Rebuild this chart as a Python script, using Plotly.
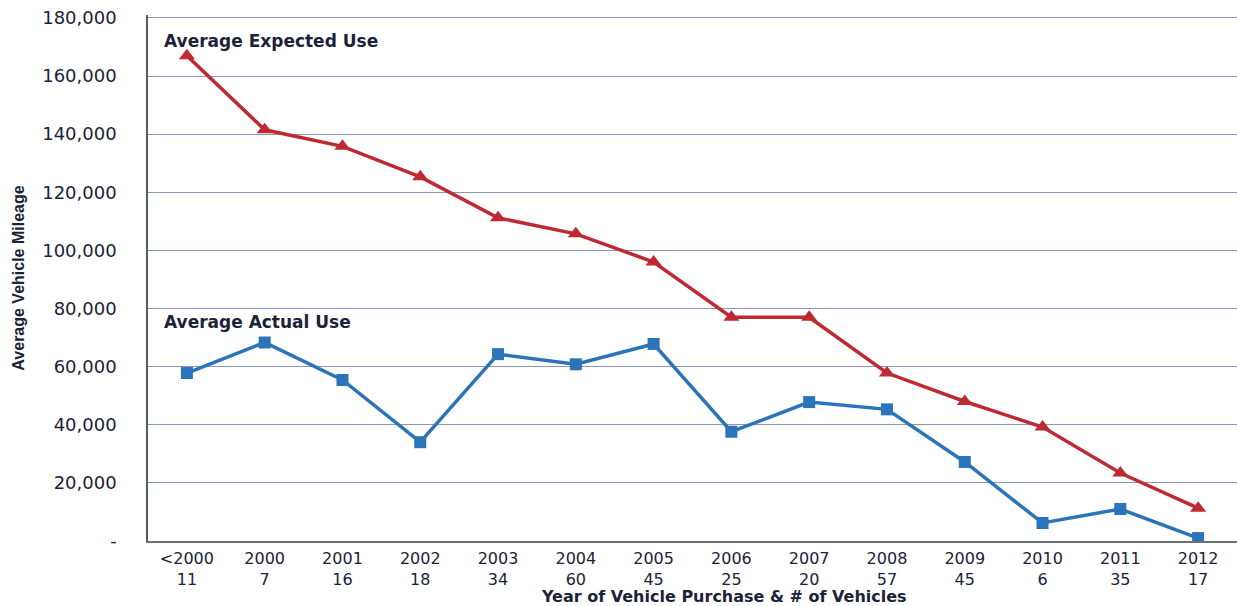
import plotly.graph_objects as go

categories = ["<2000", "2000", "2001", "2002", "2003", "2004", "2005",
              "2006", "2007", "2008", "2009", "2010", "2011", "2012"]
vehicle_counts = ["11", "7", "16", "18", "34", "60", "45",
                  "25", "20", "57", "45", "6", "35", "17"]
expected_use = [167000, 141500, 135800, 125300, 111200, 105700, 96000,
                77000, 77000, 57800, 48000, 39200, 23400, 11300]
actual_use = [57800, 68300, 55400, 34000, 64300, 60800, 67800,
              37600, 47800, 45300, 27200, 6200, 11000, 1000]
y_tickvals = [0, 20000, 40000, 60000, 80000, 100000, 120000, 140000, 160000, 180000]
y_ticktext = ["-", "20,000", "40,000", "60,000", "80,000", "100,000",
              "120,000", "140,000", "160,000", "180,000"]

x_labels = [f"{c}<br>{n}" for c, n in zip(categories, vehicle_counts)]
xs = list(range(len(categories)))

red = "#bd2a33"
blue = "#2b74b9"
text_col = "#1c2238"
grid_col = "#8c97b8"

fig = go.Figure()
fig.add_trace(go.Scatter(
    x=xs, y=expected_use, mode="lines+markers", name="Average Expected Use",
    line=dict(color=red, width=3.5),
    marker=dict(symbol="triangle-up", size=14, color=red),
))
fig.add_trace(go.Scatter(
    x=xs, y=actual_use, mode="lines+markers", name="Average Actual Use",
    line=dict(color=blue, width=3.5),
    marker=dict(symbol="square", size=12, color=blue),
))

fig.add_annotation(x=-0.32, y=172000, xref="x", yref="y", text="<b>Average Expected Use</b>",
                   showarrow=False, xanchor="left", yanchor="middle",
                   font=dict(family="DejaVu Sans", size=17, color=text_col))
fig.add_annotation(x=-0.32, y=75200, xref="x", yref="y", text="<b>Average Actual Use</b>",
                   showarrow=False, xanchor="left", yanchor="middle",
                   font=dict(family="DejaVu Sans", size=17, color=text_col))
fig.add_annotation(x=0.529, y=0, xref="paper", yref="paper",
                   text="<b>Year of Vehicle Purchase & # of Vehicles</b>",
                   showarrow=False, xanchor="center", yanchor="top", yshift=-44,
                   font=dict(family="DejaVu Sans", size=16, color=text_col))

fig.update_layout(
    width=1237, height=606,
    margin=dict(l=148, r=0, t=15, b=65),
    paper_bgcolor="white", plot_bgcolor="white",
    showlegend=False,
    font=dict(family="DejaVu Sans", color=text_col),
)
fig.update_xaxes(
    range=[-0.5, len(categories) - 0.5],
    tickvals=xs, ticktext=x_labels,
    tickfont=dict(family="DejaVu Sans", size=16, color=text_col),
    showgrid=False, zeroline=False,
    showline=True, linecolor="#6b6f7a", linewidth=1.5,
    ticks="", ticklabelstandoff=2,
)
fig.update_yaxes(
    range=[0, 181000],
    tickvals=y_tickvals, ticktext=y_ticktext,
    tickfont=dict(family="DejaVu Sans", size=18, color=text_col),
    showgrid=True, gridcolor=grid_col, gridwidth=1,
    zeroline=False,
    showline=True, linecolor="#555a66", linewidth=1.5,
    ticks="", ticklabelstandoff=26,
    title=dict(text="<b>Average Vehicle Mileage</b>",
               font=dict(family="Liberation Sans Narrow, Liberation Sans", size=16, color=text_col),
               standoff=14),
)

fig.write_html("out.html")
